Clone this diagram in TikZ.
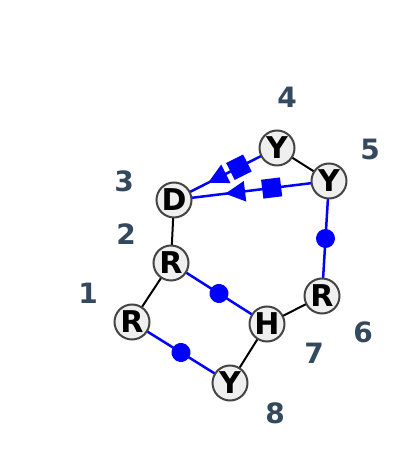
\documentclass[tikz,border=0pt]{standalone}
\usepackage{fontspec}
\setmainfont{DejaVu Sans}
\usetikzlibrary{arrows.meta,decorations.markings,backgrounds}
\definecolor{lbl}{HTML}{34495E}
\definecolor{nodefill}{HTML}{EFEFEF}
\definecolor{nodeline}{HTML}{444444}
\tikzset{
  x=1pt,y=1pt,
  res/.style={circle,draw=nodeline,line width=2pt,fill=nodefill,minimum size=35pt,inner sep=0pt,font=\fontsize{30}{30}\selectfont\bfseries},
  num/.style={text=lbl,font=\fontsize{28}{28}\selectfont\bfseries},
  bond/.style={line width=2pt,black},
  bluebond/.style={line width=2.5pt,blue},
  dotbond/.style={bluebond,postaction={decorate},decoration={markings,mark=at position 0.5 with {\fill[blue] (0,0) circle (9.5pt);}}},
  arrbond/.style={bluebond,postaction={decorate},decoration={markings,
     mark=at position 0.37 with {\node[fill=blue,minimum size=19pt,inner sep=0pt,transform shape]{};},
     mark=at position 0.67 with {\arrow{Triangle[length=20pt,width=20pt]}}}},
}
\begin{document}
\begin{tikzpicture}
\useasboundingbox (0,0) rectangle (400,470);
\node[res] (Y4) at (277,322) {Y};
\node[res] (Y5) at (329,289) {Y};
\node[res] (D3) at (174,270) {D};
\node[res] (R2) at (171,207) {R};
\node[res] (R1) at (132,148) {R};
\node[res] (H7) at (267,146) {H};
\node[res] (R6) at (322,174) {R};
\node[res] (Y8) at (230,87) {Y};
\node[num] (l4) at (287,373) {4};
\node[num] (l5) at (370,321) {5};
\node[num] (l3) at (124,289) {3};
\node[num] (l2) at (126,236) {2};
\node[num] (l1) at (88,177) {1};
\node[num] (l6) at (363,138) {6};
\node[num] (l7) at (314,117) {7};
\node[num] (l8) at (275,57) {8};
\begin{scope}[on background layer]
\draw[bond] (Y4.center) -- (Y5.center);
\draw[bond] (D3.center) -- (R2.center);
\draw[bond] (R2.center) -- (R1.center);
\draw[bond] (H7.center) -- (R6.center);
\draw[bond] (H7.center) -- (Y8.center);
\draw[dotbond] (Y5.center) -- (R6.center);
\draw[dotbond] (R2.center) -- (H7.center);
\draw[dotbond] (R1.center) -- (Y8.center);
\draw[arrbond] (Y4.center) -- (D3.center);
\draw[arrbond] (Y5.center) -- (D3.center);
\end{scope}
\end{tikzpicture}
\end{document}
